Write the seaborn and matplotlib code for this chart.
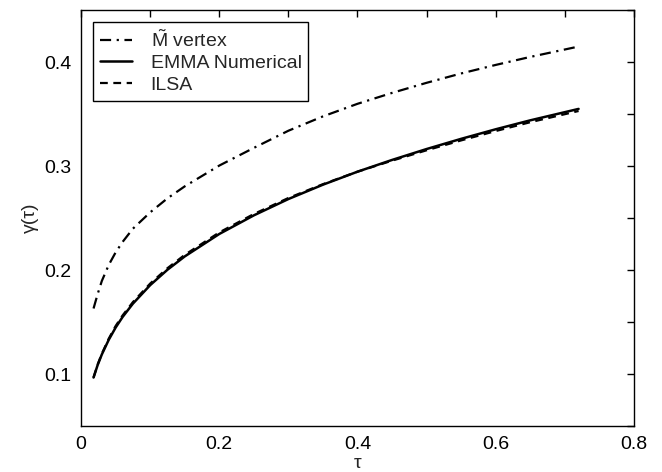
import numpy as np
import pandas as pd
import matplotlib
matplotlib.use("Agg")
import matplotlib.pyplot as plt
import seaborn as sns

tau_emma = [0.018, 0.024, 0.03, 0.04, 0.05, 0.06, 0.075, 0.1, 0.125, 0.15, 0.2, 0.25, 0.3, 0.35,
            0.4, 0.45, 0.5, 0.55, 0.6, 0.65, 0.72]
gamma_emma = [0.0966, 0.1087, 0.1188, 0.1329, 0.1447, 0.1548, 0.1677, 0.1855, 0.2003, 0.2131,
              0.2347, 0.2526, 0.2683, 0.2821, 0.2946, 0.3059, 0.3164, 0.3262, 0.3354, 0.3440,
              0.3550]
gamma_ilsa = [0.0966, 0.1092, 0.1195, 0.1340, 0.1462, 0.1563, 0.1692, 0.1870, 0.2018, 0.2146,
              0.2362, 0.2539, 0.2693, 0.2826, 0.2946, 0.3052, 0.3152, 0.3247, 0.3337, 0.3422,
              0.3530]
tau_mv = [0.018, 0.024, 0.03, 0.04, 0.05, 0.06, 0.075, 0.1, 0.125, 0.15, 0.2, 0.25, 0.3, 0.35,
          0.4, 0.45, 0.5, 0.55, 0.6, 0.65, 0.72]
gamma_mv = [0.1630, 0.1770, 0.1895, 0.2049, 0.2170, 0.2270, 0.2398, 0.2555, 0.2690, 0.2805,
            0.3005, 0.3175, 0.3340, 0.3478, 0.3599, 0.3704, 0.3801, 0.3891, 0.3973, 0.4050,
            0.4150]

x_ticks = [0, 0.1, 0.2, 0.3, 0.4, 0.5, 0.6, 0.7, 0.8]
x_labels = ["0", "", "0.2", "", "0.4", "", "0.6", "", "0.8"]
y_ticks = [0.05, 0.1, 0.15, 0.2, 0.25, 0.3, 0.35, 0.4, 0.45]
y_labels = ["", "0.1", "", "0.2", "", "0.3", "", "0.4", ""]

sns.set_style("white")
plt.rcParams['font.family'] = ['Liberation Sans', 'DejaVu Sans']
plt.rcParams['mathtext.fontset'] = 'custom'
plt.rcParams['mathtext.rm'] = 'Liberation Sans'

fig = plt.figure(figsize=(6.62, 4.72), dpi=100)
ax = fig.add_axes([0.1225, 0.0975, 0.835, 0.881])

df_mv = pd.DataFrame({"tau": tau_mv, "gamma": gamma_mv})
df_emma = pd.DataFrame({"tau": tau_emma, "gamma": gamma_emma})
df_ilsa = pd.DataFrame({"tau": tau_emma, "gamma": gamma_ilsa})

sns.lineplot(data=df_mv, x="tau", y="gamma", ax=ax, color="black", lw=1.6,
             linestyle=(0, (5, 2.5, 1, 2.5)), label=r"$\tilde{\mathrm{M}}$ vertex")
sns.lineplot(data=df_emma, x="tau", y="gamma", ax=ax, color="black", lw=1.8,
             label="EMMA Numerical")
sns.lineplot(data=df_ilsa, x="tau", y="gamma", ax=ax, color="black", lw=1.6,
             linestyle=(0, (3.5, 2.5)), label="ILSA")

ax.set_xlim(0, 0.8)
ax.set_ylim(0.05, 0.45)
ax.set_xticks(x_ticks)
ax.set_xticklabels(x_labels)
ax.set_yticks(y_ticks)
ax.set_yticklabels(y_labels)
ax.tick_params(direction="in", length=5, width=1, top=True, right=True,
               labelsize=14, colors="black", pad=7)
for s in ax.spines.values():
    s.set_color("black")
    s.set_linewidth(1)
ax.set_xlabel("τ", fontsize=14, labelpad=2)
ax.set_ylabel("γ(τ)", fontsize=14, labelpad=4)

leg = ax.legend(loc="upper left", bbox_to_anchor=(0.015, 0.98), fontsize=14,
                frameon=True, fancybox=False, edgecolor="black", framealpha=1,
                handlelength=1.65, borderpad=0.35, labelspacing=0.2, handletextpad=0.95,
                borderaxespad=0.2)
leg.get_frame().set_linewidth(1)

fig.savefig("out.png", dpi=100)
